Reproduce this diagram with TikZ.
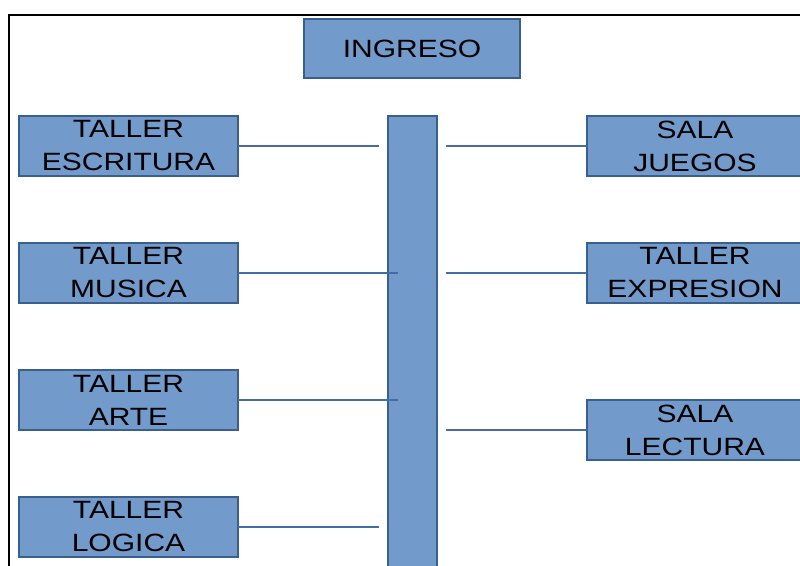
\documentclass[tikz,border=0pt]{standalone}
\usepackage{fontspec}
\setmainfont{Liberation Sans}[FakeStretch=1.2]
\usepackage{tikz}
\usetikzlibrary{positioning}
\definecolor{boxfill}{RGB}{114,155,204}
\definecolor{boxedge}{RGB}{58,95,140}
\definecolor{linkblue}{RGB}{68,110,162}
\tikzstyle{area} = [rectangle, minimum width=216pt, minimum height=60pt, inner sep=0pt, outer sep=0pt, align=center, draw=boxedge, line width=1.3pt, fill=boxfill, font=\fontsize{25}{33}\selectfont]
\tikzstyle{link} = [draw=linkblue, line width=1.6pt]

\begin{document}
\begin{tikzpicture}[x=1pt, y=-1pt, node distance=67pt]
        \useasboundingbox (0,0) rectangle (800,565);
        \clip (0,0) rectangle (800,565);
        \draw [line width=2pt] (9,15) rectangle (830,600);

        \node (ingreso) [area, minimum height=59pt] at (412,48.5) {INGRESO};
        \node (pasillo) [area, minimum width=49pt, minimum height=500pt, anchor=north] at (412.5,116) {};

        \node (escritura) [area, minimum width=219pt] at (128.5,146) {TALLER\\ESCRITURA};
        \node (musica) [area, minimum width=219pt, below=of escritura] {TALLER\\MUSICA};
        \node (arte) [area, minimum width=219pt, below=of musica] {TALLER\\ARTE};
        \node (logica) [area, minimum width=219pt, below=of arte] {TALLER\\LOGICA};

        \node (juegos) [area, anchor=west] at (587,146) {SALA\\JUEGOS};
        \node (expresion) [area, below=of juegos] {TALLER\\EXPRESION};
        \node (lectura) [area, below=97pt of expresion] {SALA\\LECTURA};

        \draw [link] (escritura.east) -- ([xshift=-9pt]escritura.east -| pasillo.west);
        \draw [link] (musica.east) -- ([xshift=10pt]musica.east -| pasillo.west);
        \draw [link] (arte.east) -- ([xshift=10pt]arte.east -| pasillo.west);
        \draw [link] (logica.east) -- ([xshift=-9pt]logica.east -| pasillo.west);
        \draw [link] ([xshift=9pt]juegos.west -| pasillo.east) -- (juegos.west);
        \draw [link] ([xshift=9pt]expresion.west -| pasillo.east) -- (expresion.west);
        \draw [link] ([xshift=9pt]lectura.west -| pasillo.east) -- (lectura.west);
\end{tikzpicture}
\end{document}
